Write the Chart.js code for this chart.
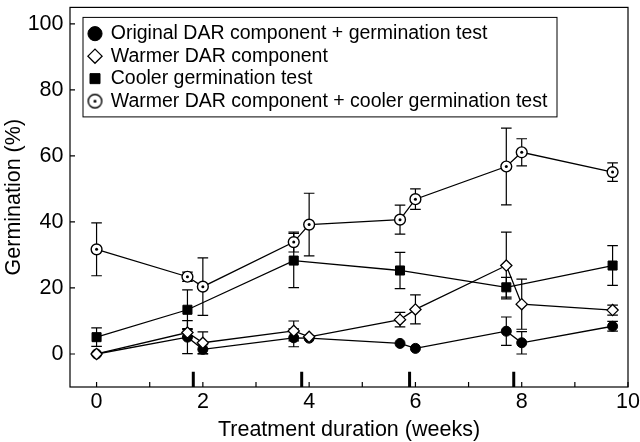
<!DOCTYPE html>
<html lang="en">
<head>
    <meta charset="UTF-8">
    <title>Germination vs treatment duration</title>
    <script src="https://cdn.jsdelivr.net/npm/chart.js"></script>
    <style>
        body {
            margin: 0;
            background: #fff;
        }
        canvas {
            display: block;
        }
    </style>
</head>
<body>
    <canvas id="grafico" width="640" height="442"></canvas>

    <script>
        // weeks of treatment (12, 14, 26, 28 ... days)
        const weeks = [0, 1.71, 2, 3.71, 4, 5.71, 6, 7.71, 8, 9.71];
        const coolerWeeks = [0, 1.71, 3.71, 5.71, 7.71, 9.71];

        const original = [0, 5.1, 1.4, 4.9, 4.8, 3.2, 1.7, 6.9, 3.4, 8.4];
        const originalErr = [0, 5, 1.4, 2.7, 0, 0, 0, 4.3, 3.4, 1.5];

        const warmer = [0, 6.5, 3.4, 7.0, 5.2, 10.4, 13.5, 26.8, 15.1, 13.3];
        const warmerErr = [0, 1.2, 3.3, 3.0, 0, 2.2, 4.4, 10.1, 7.6, 1.5];

        const cooler = [5.1, 13.4, 28.3, 25.3, 20.2, 26.8];
        const coolerErr = [2.8, 6, 8.2, 5.5, 3, 6];

        const combined = [31.7, 23.4, 20.4, 33.9, 39.2, 40.7, 46.9, 56.8, 61.1, 55.1];
        const combinedErr = [8, 1.4, 8.7, 3, 9.5, 4.4, 3.1, 11.6, 4.1, 2.8];

        // marks on the time axis
        const eventWeeks = [1.82, 3.86, 5.89, 7.85];

        const seriesNames = [
            "Original DAR component + germination test",
            "Warmer DAR component",
            "Cooler germination test",
            "Warmer DAR component + cooler germination test"
        ];
        const xTitle = "Treatment duration (weeks)";
        const yTitle = "Germination (%)";

        const pts = (xs, ys) => xs.map((x, i) => ({x: x, y: ys[i]}));

        // open circle with a dot in the middle, for the legend
        function ringDot(r) {
            const c = document.createElement("canvas");
            const s = Math.ceil(2 * r + 3);
            c.width = c.height = s;
            const g = c.getContext("2d");
            g.beginPath();
            g.arc(s / 2, s / 2, r, 0, 2 * Math.PI);
            g.fillStyle = "#fff";
            g.fill();
            g.lineWidth = 1.4;
            g.strokeStyle = "#000";
            g.stroke();
            g.beginPath();
            g.arc(s / 2, s / 2, 1.5, 0, 2 * Math.PI);
            g.fillStyle = "#000";
            g.fill();
            return c;
        }
        const dotLegend = ringDot(6.8);

        const errorBars = {
            id: "errorBars",
            beforeDatasetsDraw(chart) {
                const ctx = chart.ctx;
                const y = chart.scales.y;
                ctx.save();
                ctx.strokeStyle = "#000";
                ctx.lineWidth = 1.2;
                chart.data.datasets.forEach((ds, i) => {
                    if (!ds.errors) return;
                    chart.getDatasetMeta(i).data.forEach((pt, j) => {
                        const e = ds.errors[j];
                        if (!e) return;
                        const v = ds.data[j].y;
                        const top = y.getPixelForValue(v + e);
                        const bot = y.getPixelForValue(v - e);
                        ctx.beginPath();
                        ctx.moveTo(pt.x, top);
                        ctx.lineTo(pt.x, bot);
                        ctx.moveTo(pt.x - 5.3, top);
                        ctx.lineTo(pt.x + 5.3, top);
                        ctx.moveTo(pt.x - 5.3, bot);
                        ctx.lineTo(pt.x + 5.3, bot);
                        ctx.stroke();
                    });
                });
                ctx.restore();
            },
            afterDatasetsDraw(chart) {
                // centre dots of the dotted-circle series
                const ctx = chart.ctx;
                ctx.save();
                ctx.fillStyle = "#000";
                chart.data.datasets.forEach((ds, i) => {
                    if (!ds.centerDot) return;
                    chart.getDatasetMeta(i).data.forEach(pt => {
                        ctx.beginPath();
                        ctx.arc(pt.x, pt.y, 1.5, 0, 2 * Math.PI);
                        ctx.fill();
                    });
                });
                ctx.restore();
            }
        };

        // box round the plot with ticks pointing inwards
        const frame = {
            id: "frame",
            afterDraw(chart) {
                const {ctx, chartArea: a, scales: {x, y}} = chart;
                ctx.save();
                ctx.strokeStyle = "#000";
                ctx.lineWidth = 1.2;
                ctx.strokeRect(a.left, a.top, a.right - a.left, a.bottom - a.top);
                ctx.beginPath();
                x.ticks.forEach(t => {
                    const p = x.getPixelForValue(t.value);
                    ctx.moveTo(p, a.bottom);
                    ctx.lineTo(p, a.bottom - 5);
                });
                y.ticks.forEach(t => {
                    const p = y.getPixelForValue(t.value);
                    ctx.moveTo(a.left, p);
                    ctx.lineTo(a.left + 5, p);
                });
                ctx.stroke();
                ctx.restore();
            }
        };

        // legend takes no room in the layout and sits inside the plot
        const legendInside = {
            id: "legendInside",
            beforeUpdate(chart) {
                const lg = chart.legend;
                if (lg && !lg._inside) {
                    const fit = lg.fit;
                    lg.fit = function () {
                        fit.call(this);
                        this.width = 0;
                    };
                    lg._inside = true;
                }
            },
            afterLayout(chart) {
                const lg = chart.legend;
                const a = chart.chartArea;
                lg.left = a.left + 16;
                lg.top = a.top + 13.5;
                lg.width = 480;
                lg.height = 100;
                lg.right = lg.left + lg.width;
                lg.bottom = lg.top + lg.height;
            },
            beforeDraw(chart) {
                const lg = chart.legend;
                const ctx = chart.ctx;
                ctx.save();
                ctx.fillStyle = "#fff";
                ctx.strokeStyle = "#000";
                ctx.lineWidth = 1;
                ctx.fillRect(lg.left - 3, lg.top - 3.5, 474, 99.5);
                ctx.strokeRect(lg.left - 3, lg.top - 3.5, 474, 99.5);
                ctx.restore();
            }
        };

        const noPad = (s) => {
            s.paddingTop = 0;
            s.paddingBottom = 0;
            s.paddingLeft = 0;
            s.paddingRight = 0;
        };

        Chart.defaults.font.family = "'Liberation Sans', Arial, Helvetica, sans-serif";
        Chart.defaults.color = "#000";

        const ctx = document.getElementById("grafico").getContext("2d");
        new Chart(ctx, {
            type: "scatter",
            data: {
                datasets: [
                    {
                        label: seriesNames[0],
                        data: pts(weeks, original),
                        errors: originalErr,
                        showLine: true,
                        borderColor: "#000",
                        borderWidth: 1.3,
                        pointStyle: "circle",
                        pointRadius: 5,
                        pointBackgroundColor: "#000",
                        pointBorderColor: "#000",
                        pointBorderWidth: 1,
                        order: 1
                    },
                    {
                        label: seriesNames[1],
                        data: pts(weeks, warmer),
                        errors: warmerErr,
                        showLine: true,
                        borderColor: "#000",
                        borderWidth: 1.3,
                        pointStyle: "rectRot",
                        pointRadius: 5.6,
                        pointBackgroundColor: "#fff",
                        pointBorderColor: "#000",
                        pointBorderWidth: 1.3,
                        order: 0
                    },
                    {
                        label: seriesNames[2],
                        data: pts(coolerWeeks, cooler),
                        errors: coolerErr,
                        showLine: true,
                        borderColor: "#000",
                        borderWidth: 1.3,
                        pointStyle: "rect",
                        pointRadius: 6.4,
                        pointBackgroundColor: "#000",
                        pointBorderColor: "#000",
                        pointBorderWidth: 1,
                        order: 2
                    },
                    {
                        label: seriesNames[3],
                        data: pts(weeks, combined),
                        errors: combinedErr,
                        centerDot: true,
                        showLine: true,
                        borderColor: "#000",
                        borderWidth: 1.3,
                        pointStyle: "circle",
                        pointRadius: 5.4,
                        pointBackgroundColor: "#fff",
                        pointBorderColor: "#000",
                        pointBorderWidth: 1.4,
                        order: 3
                    },
                    {
                        label: "events",
                        data: eventWeeks.flatMap(w => [{x: w, y: -10}, {x: w, y: -5.4}, {x: w, y: null}]),
                        showLine: true,
                        borderColor: "#000",
                        borderWidth: 3,
                        borderCapStyle: "butt",
                        pointRadius: 0,
                        order: 4
                    }
                ]
            },
            options: {
                responsive: false,
                animation: false,
                layout: {
                    padding: {top: 0.5, right: 12, left: 0, bottom: 0}
                },
                plugins: {
                    tooltip: {enabled: false},
                    legend: {
                        position: "left",
                        align: "start",
                        labels: {
                            usePointStyle: true,
                            boxWidth: 12,
                            boxHeight: 10,
                            padding: 3,
                            color: "#000",
                            font: {size: 19.5},
                            filter: item => item.datasetIndex < 4,
                            sort: (a, b) => a.datasetIndex - b.datasetIndex,
                            generateLabels(chart) {
                                const items = Chart.defaults.plugins.legend.labels.generateLabels(chart);
                                items.forEach(it => {
                                    if (it.datasetIndex === 3) it.pointStyle = dotLegend;
                                });
                                return items;
                            }
                        }
                    }
                },
                scales: {
                    x: {
                        type: "linear",
                        min: -0.5,
                        max: 10,
                        grid: {display: false, drawTicks: false},
                        border: {display: false},
                        ticks: {
                            stepSize: 1,
                            includeBounds: false,
                            autoSkip: false,
                            maxRotation: 0,
                            padding: 2,
                            font: {size: 21.5},
                            callback: v => (v % 2 === 0 ? v : "")
                        },
                        title: {
                            display: true,
                            text: xTitle,
                            font: {size: 21.5, lineHeight: 1.15},
                            padding: {top: 0, bottom: 0}
                        },
                        afterFit: s => {
                            noPad(s);
                            s.height = 55;
                        }
                    },
                    y: {
                        min: -10,
                        max: 105,
                        grid: {display: false, drawTicks: false},
                        border: {display: false},
                        ticks: {
                            stepSize: 20,
                            includeBounds: false,
                            padding: 6.5,
                            font: {size: 21.5}
                        },
                        title: {
                            display: true,
                            text: yTitle,
                            font: {size: 21.5},
                            padding: {top: 1, bottom: 0}
                        },
                        afterFit: s => {
                            noPad(s);
                            s.width = 70;
                        }
                    }
                }
            },
            plugins: [legendInside, errorBars, frame]
        });
    </script>
</body>
</html>
